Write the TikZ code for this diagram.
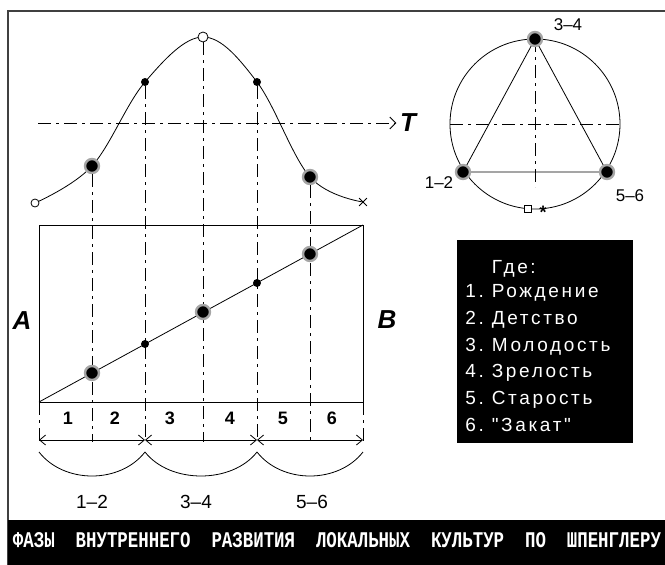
\documentclass[tikz,border=0pt]{standalone}
\usepackage{fontspec}
\setmainfont{Liberation Sans}
\newfontfamily\bannerfont{Liberation Mono}
\newfontfamily\legendfont[LetterSpace=14]{Liberation Sans}
\usetikzlibrary{arrows.meta,shapes.misc}

\begin{document}
\begin{tikzpicture}[x=1pt,y=-1pt,line width=0.8pt,
  bigdot/.style={circle,fill=black,draw=black!35,line width=2.4pt,inner sep=0pt,minimum size=14pt},
  smalldot/.style={circle,fill=black,inner sep=0pt,minimum size=8pt},
  opendot/.style={circle,draw,fill=white,inner sep=0pt,minimum size=9pt},
  axisline/.style={dash pattern=on 13pt off 5pt on 3pt off 5pt},
  dimline/.style={{Straight Barb[length=6pt,width=10pt]}-{Straight Barb[length=6pt,width=10pt]}},
  bigletter/.style={font=\fontsize{26}{26}\selectfont\bfseries\itshape},
  segnum/.style={font=\fontsize{18}{18}\selectfont\bfseries},
  phase/.style={font=\fontsize{19}{19}\selectfont},
  legendtext/.style={anchor=base west,inner sep=0pt,text=white,font=\legendfont\fontsize{19}{19}\selectfont}]
  \useasboundingbox (0,0) rectangle (665,565);
  % frame and title bar
  \draw[line width=1.5pt,black!75] (8,565) -- (8,11) -- (665,11);
  \fill (8,520) rectangle (665,565);
  \node[text=white,inner sep=0pt] (title) at (337,540)
    {\resizebox{648pt}{15pt}{\bannerfont\bfseries ФАЗЫ~~ВНУТРЕННЕГО~~РАЗВИТИЯ~~ЛОКАЛЬНЫХ~~КУЛЬТУР~~ПО~~ШПЕНГЛЕРУ}};

  % bell curve
  \coordinate (c0) at (35,203);
  \coordinate (c1) at (92,166);
  \coordinate (c2) at (145,82);
  \coordinate (c3) at (203,37);
  \coordinate (c4) at (257,82);
  \coordinate (c5) at (310,177);
  \coordinate (c6) at (363,202);
  \draw plot[smooth,tension=0.6] coordinates {(c0) (c1) (c2) (c3) (c4) (c5) (c6)};
  \coordinate (t0) at (38,123);
  \node[bigletter] (T) at (408,123) {T};
  \draw[axisline,-{Straight Barb[length=6pt,width=12pt]}] (t0) -- (T);

  \node[opendot,minimum size=8pt] (m0) at (c0) {};
  \node[bigdot] (m1) at (c1) {};
  \node[smalldot] (m2) at (c2) {};
  \node[opendot,minimum size=10pt] (m3) at (c3) {};
  \node[smalldot] (m4) at (c4) {};
  \node[bigdot] (m5) at (c5) {};
  \node[cross out,draw,inner sep=0pt,minimum size=7pt] (m6) at (c6) {};

  % dashed verticals down to the segment row
  \foreach \x [count=\i] in {92,145,203,257,310}
    \coordinate (v\i) at (\x,442);
  \foreach \i in {1,...,5}
    \draw[axisline] (m\i) -- (v\i);

  % rectangle A--B with diagonal
  \coordinate (bl) at (39,402);
  \coordinate (br) at (363,402);
  \coordinate (tr) at (363,225);
  \coordinate (e0) at (39,442);
  \coordinate (e6) at (363,442);
  \draw (bl) rectangle (tr);
  \draw (bl) -- (tr);
  \draw[axisline] (bl) -- (e0);
  \draw[axisline] (br) -- (e6);
  \node[bigdot] (d1) at (92,373) {};
  \node[smalldot] (d2) at (145,344) {};
  \node[bigdot] (d3) at (203,312) {};
  \node[smalldot] (d4) at (257,283) {};
  \node[bigdot] (d5) at (310,254) {};
  \node[bigletter] (A) at (22,321) {A};
  \node[bigletter] (B) at (387,320) {B};

  % segments 1..6
  \foreach \x [count=\i] in {68,115,170,230,283,332}
    \node[segnum] (n\i) at (\x,418) {\i};
  \coordinate (k0) at (39,440);
  \coordinate (k1) at (145,440);
  \coordinate (k2) at (257,440);
  \coordinate (k3) at (363,440);
  \draw[dimline] (k0) -- (k1);
  \draw[dimline] (k1) -- (k2);
  \draw[dimline] (k2) -- (k3);

  % arcs of the phase pairs
  \coordinate (a0) at (39,452);
  \coordinate (a1) at (145,452);
  \coordinate (a2) at (257,452);
  \coordinate (a3) at (363,452);
  \draw (a0) .. controls +(25,32) and +(-25,32) .. (a1);
  \draw (a1) .. controls +(25,32) and +(-25,32) .. (a2);
  \draw (a2) .. controls +(25,32) and +(-25,32) .. (a3);
  \node[phase] (p12) at (92,502) {1--2};
  \node[phase] (p34) at (196,502) {3--4};
  \node[phase] (p56) at (312,502) {5--6};

  % circle with triangle
  \coordinate (o) at (535,124);
  \draw (o) circle[radius=85];
  \coordinate (q1c) at (535,39);
  \coordinate (q2c) at (463,172);
  \coordinate (q3c) at (607,172);
  \draw (q1c) -- (q2c) -- (q3c) -- cycle;
  \coordinate (h0) at (450,124);
  \coordinate (h1) at (620,124);
  \coordinate (vq) at (535,187);
  \draw[axisline] (h0) -- (h1);
  \draw[axisline] (q1c) -- (vq);
  \node[bigdot] (q1) at (q1c) {};
  \node[bigdot] (q2) at (q2c) {};
  \node[bigdot] (q3) at (q3c) {};
  \node[draw,fill=white,inner sep=0pt,minimum size=7pt] (sq) at (528,209) {};
  \node[font=\fontsize{18}{18}\selectfont\bfseries,inner sep=0pt] (ast) at (543,212) {*};
  \node[font=\fontsize{17}{17}\selectfont] (l34) at (568,25) {3--4};
  \node[font=\fontsize{17}{17}\selectfont] (l12) at (439,183) {1--2};
  \node[font=\fontsize{17}{17}\selectfont] (l56) at (630,196) {5--6};

  % legend
  \node[fill=black,inner sep=0pt,minimum width=176pt,minimum height=203pt] (legend) at (545,341.5) {};
  \node[legendtext] (where) at (465,273.5) {\phantom{1.~}Где:};
  \foreach \t [count=\i] in {Рождение,Детство,Молодость,Зрелость,Старость,"Закат"}
    \node[legendtext] (item\i) at (465,{270.7+26.8*\i}) {\i.~\t};
\end{tikzpicture}
\end{document}
